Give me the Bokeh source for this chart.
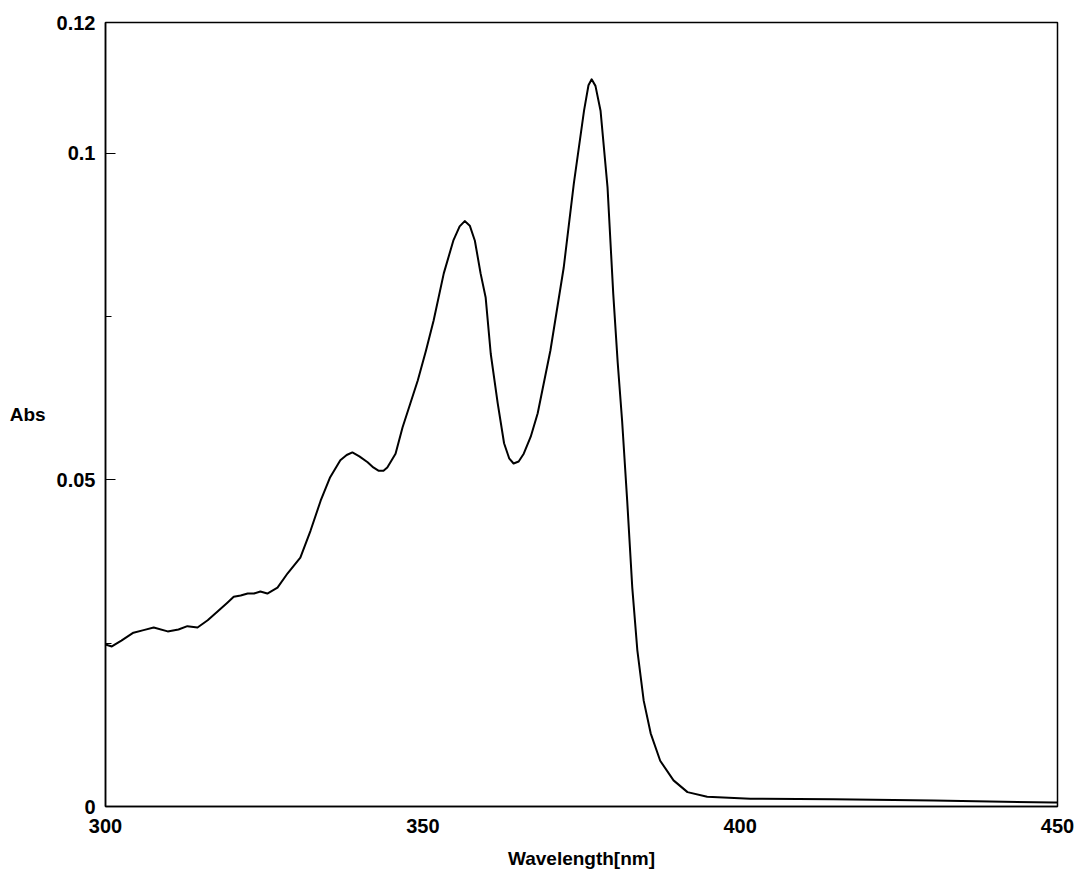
from bokeh.plotting import figure
from bokeh.models import Range1d, FixedTicker
from bokeh.embed import file_html
from bokeh.resources import INLINE

# Wavelength (nm) and absorbance
wavelength = [300.0, 301.0, 302.5, 304.4, 306.0, 307.6, 309.8, 311.5, 312.9, 314.5,
              316.1, 317.7, 319.2, 320.2, 321.3, 322.4, 323.4, 324.4, 325.5, 327.1,
              328.7, 330.7, 332.3, 333.9, 335.4, 337.0, 338.0, 338.9, 340.0, 341.3,
              342.2, 343.0, 343.8, 344.4, 345.7, 346.8, 348.0, 349.2, 350.5, 351.7,
              353.3, 354.8, 355.8, 356.6, 357.4, 358.2, 359.1, 359.9, 360.7, 361.8,
              362.8, 363.6, 364.3, 365.1, 365.9, 367.0, 368.1, 370.1, 372.2, 373.8,
              375.4, 376.1, 376.6, 377.2, 378.0, 379.1, 380.0, 380.7, 381.4, 382.2,
              383.0, 383.8, 384.8, 385.9, 387.4, 389.5, 391.7, 394.8, 401.6, 414.7,
              430.5, 449.4, 450.0]
absorbance = [0.0248, 0.0245, 0.0254, 0.0266, 0.0270, 0.0274, 0.0268, 0.0271, 0.0276, 0.0274,
              0.0285, 0.0299, 0.0312, 0.0321, 0.0323, 0.0326, 0.0326, 0.0329, 0.0326, 0.0335,
              0.0357, 0.0381, 0.0422, 0.0468, 0.0504, 0.0530, 0.0538, 0.0542, 0.0536, 0.0527,
              0.0519, 0.0514, 0.0514, 0.0519, 0.0540, 0.0580, 0.0616, 0.0652, 0.0698, 0.0744,
              0.0816, 0.0866, 0.0888, 0.0896, 0.0889, 0.0866, 0.0816, 0.0779, 0.0693, 0.0617,
              0.0556, 0.0533, 0.0525, 0.0528, 0.0540, 0.0566, 0.0602, 0.0698, 0.0825, 0.0954,
              0.1065, 0.1104, 0.1113, 0.1103, 0.1065, 0.0948, 0.0785, 0.0680, 0.0590, 0.0468,
              0.0335, 0.0239, 0.0162, 0.0112, 0.0070, 0.0040, 0.0022, 0.0015, 0.0012, 0.0011,
              0.0009, 0.0006, 0.0006]

x_ticks = [300, 350, 400, 450]
y_ticks = [0, 0.05, 0.1, 0.12]
y_minor_ticks = [0.025, 0.075]
y_tick_labels = {0: "0", 0.05: "0.05", 0.1: "0.1", 0.12: "0.12"}

FONT = "Liberation Sans"

p = figure(frame_width=952, frame_height=784,
           min_border_left=105, min_border_top=22, min_border_right=18, min_border_bottom=69,
           x_range=Range1d(300, 450), y_range=Range1d(0, 0.12),
           output_backend="svg", toolbar_location=None, tools="")

p.line(wavelength, absorbance, line_color="black", line_width=2,
       line_join="round", line_cap="round")

p.xgrid.visible = False
p.ygrid.visible = False
p.outline_line_color = "black"
p.outline_line_width = 1.5
p.background_fill_color = "white"
p.border_fill_color = "white"

for ax in (p.xaxis[0], p.yaxis[0]):
    ax.axis_line_color = "black"
    ax.axis_line_width = 1.5
    ax.major_label_text_font = FONT
    ax.major_label_text_font_style = "bold"
    ax.major_label_text_font_size = "20px"
    ax.major_label_text_color = "black"
    ax.axis_label_text_font = FONT
    ax.axis_label_text_font_style = "bold"
    ax.axis_label_text_font_size = "19px"
    ax.axis_label_text_color = "black"

xa = p.xaxis[0]
xa.ticker = FixedTicker(ticks=x_ticks)
xa.major_tick_in = 0
xa.major_tick_out = 0
xa.minor_tick_in = 0
xa.minor_tick_out = 0
xa.major_label_standoff = 12
xa.axis_label = "Wavelength[nm]"
xa.axis_label_standoff = 12

ya = p.yaxis[0]
ya.ticker = FixedTicker(ticks=y_ticks, minor_ticks=y_minor_ticks)
ya.major_label_overrides = y_tick_labels
ya.major_tick_in = 10
ya.major_tick_out = 0
ya.major_tick_line_color = "black"
ya.minor_tick_in = 6
ya.minor_tick_out = 0
ya.minor_tick_line_color = "black"
ya.major_label_standoff = 10
ya.axis_label = "Abs"
ya.axis_label_orientation = "horizontal"
ya.axis_label_standoff = 8

open("out.html", "w").write(file_html(p, INLINE))
